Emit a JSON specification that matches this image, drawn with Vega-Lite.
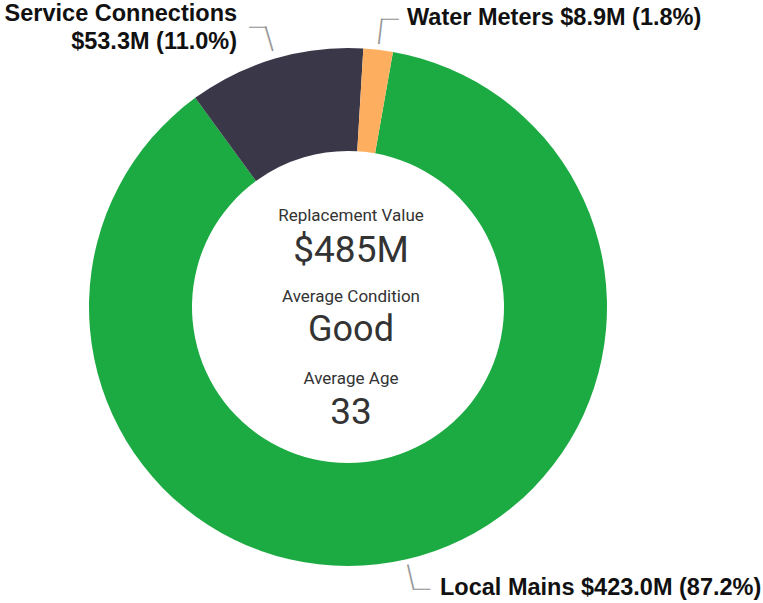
{
  "$schema": "https://vega.github.io/schema/vega-lite/v6.json",
  "autosize": {"type": "none"},
  "width": 696,
  "height": 592,
  "padding": {"left": 0, "top": 11, "right": 67, "bottom": 0},
  "background": "white",
  "config": {"view": {"stroke": null}},
  "datasets": {
    "assets": [
      {"asset": "Local Mains", "value": 423.0, "label": "Local Mains $423.0M (87.2%)"},
      {"asset": "Service Connections", "value": 53.3, "label": "Service Connections\n$53.3M (11.0%)"},
      {"asset": "Water Meters", "value": 8.9, "label": "Water Meters $8.9M (1.8%)"}
    ],
    "summary": [
      {"metric": "Replacement Value", "display": "$485M"},
      {"metric": "Average Condition", "display": "Good"},
      {"metric": "Average Age", "display": "33"}
    ]
  },
  "data": {"name": "assets"},
  "layer": [
    {
      "mark": {"type": "arc", "innerRadius": 156, "outerRadius": 259},
      "encoding": {
        "theta": {"field": "value", "type": "quantitative", "stack": true, "scale": {"range": [0.1745, 6.4577]}},
        "color": {"field": "asset", "type": "nominal", "scale": {"domain": ["Local Mains", "Service Connections", "Water Meters"], "range": ["#1caa42", "#3a3748", "#fdae5f"]}, "legend": null}
      }
    },
    {
      "mark": {"type": "text", "radius": 277, "angle": 166.9, "align": "center", "baseline": "alphabetic", "dy": 7.4, "font": "DejaVu Sans Mono", "fontSize": 21.5, "fill": "#999999"},
      "encoding": {
        "theta": {"field": "value", "type": "quantitative", "stack": true},
        "detail": {"field": "asset"},
        "text": {"condition": {"test": "datum.asset === 'Local Mains'", "value": "│"}, "value": ""}
      }
    },
    {
      "mark": {"type": "text", "radius": 279.5, "angle": -16.4, "align": "center", "baseline": "alphabetic", "dy": 7.4, "font": "DejaVu Sans Mono", "fontSize": 21.5, "fill": "#999999"},
      "encoding": {
        "theta": {"field": "value", "type": "quantitative", "stack": true},
        "detail": {"field": "asset"},
        "text": {"condition": {"test": "datum.asset === 'Service Connections'", "value": "│"}, "value": ""}
      }
    },
    {
      "mark": {"type": "text", "radius": 277.5, "angle": 6.7, "align": "center", "baseline": "alphabetic", "dy": 7.4, "font": "DejaVu Sans Mono", "fontSize": 21.5, "fill": "#999999"},
      "encoding": {
        "theta": {"field": "value", "type": "quantitative", "stack": true},
        "detail": {"field": "asset"},
        "text": {"condition": {"test": "datum.asset === 'Water Meters'", "value": "│"}, "value": ""}
      }
    },
    {
      "mark": {"type": "text", "radius": 289, "align": "left", "baseline": "alphabetic", "dx": -0.5, "dy": 5, "font": "DejaVu Sans Mono", "fontSize": 14.5, "fill": "#8f8f8f"},
      "encoding": {
        "theta": {"field": "value", "type": "quantitative", "stack": true},
        "detail": {"field": "asset"},
        "text": {"condition": {"test": "datum.asset === 'Local Mains'", "value": "──"}, "value": ""}
      }
    },
    {
      "mark": {"type": "text", "radius": 292, "align": "right", "baseline": "alphabetic", "dx": 0.7, "dy": 5, "font": "DejaVu Sans Mono", "fontSize": 14.5, "fill": "#8f8f8f"},
      "encoding": {
        "theta": {"field": "value", "type": "quantitative", "stack": true},
        "detail": {"field": "asset"},
        "text": {"condition": {"test": "datum.asset === 'Service Connections'", "value": "──"}, "value": ""}
      }
    },
    {
      "mark": {"type": "text", "radius": 290, "align": "left", "baseline": "alphabetic", "dx": -0.5, "dy": 5, "font": "DejaVu Sans Mono", "fontSize": 14.5, "fill": "#8f8f8f"},
      "encoding": {
        "theta": {"field": "value", "type": "quantitative", "stack": true},
        "detail": {"field": "asset"},
        "text": {"condition": {"test": "datum.asset === 'Water Meters'", "value": "──"}, "value": ""}
      }
    },
    {
      "mark": {"type": "text", "radius": 289, "align": "left", "baseline": "alphabetic", "dx": 26.6, "dy": 6.5, "font": "Liberation Sans", "fontWeight": "bold", "fontSize": 23.5, "fill": "#111111"},
      "encoding": {
        "theta": {"field": "value", "type": "quantitative", "stack": true},
        "detail": {"field": "asset"},
        "text": {"condition": {"test": "datum.asset === 'Local Mains'", "field": "label", "type": "nominal"}, "value": ""}
      }
    },
    {
      "mark": {"type": "text", "radius": 292, "align": "right", "baseline": "alphabetic", "dx": -28.6, "dy": -5.4, "lineBreak": "\n", "lineHeight": 28, "font": "Liberation Sans", "fontWeight": "bold", "fontSize": 23.5, "fill": "#111111"},
      "encoding": {
        "theta": {"field": "value", "type": "quantitative", "stack": true},
        "detail": {"field": "asset"},
        "text": {"condition": {"test": "datum.asset === 'Service Connections'", "field": "label", "type": "nominal"}, "value": ""}
      }
    },
    {
      "mark": {"type": "text", "radius": 290, "align": "left", "baseline": "alphabetic", "dx": 25.2, "dy": 6, "font": "Liberation Sans", "fontWeight": "bold", "fontSize": 23.5, "fill": "#111111"},
      "encoding": {
        "theta": {"field": "value", "type": "quantitative", "stack": true},
        "detail": {"field": "asset"},
        "text": {"condition": {"test": "datum.asset === 'Water Meters'", "field": "label", "type": "nominal"}, "value": ""}
      }
    },
    {
      "data": {"name": "summary"},
      "transform": [{"filter": "datum.metric === 'Replacement Value'"}],
      "mark": {"type": "text", "align": "center", "baseline": "alphabetic", "dx": 3, "dy": -86.5, "font": "Roboto", "fontSize": 17, "fill": "#333333"},
      "encoding": {"text": {"field": "metric", "type": "nominal"}}
    },
    {
      "data": {"name": "summary"},
      "transform": [{"filter": "datum.metric === 'Replacement Value'"}],
      "mark": {"type": "text", "align": "center", "baseline": "alphabetic", "dx": 3, "dy": -45.5, "font": "Roboto", "fontSize": 37, "fill": "#333333"},
      "encoding": {"text": {"field": "display", "type": "nominal"}}
    },
    {
      "data": {"name": "summary"},
      "transform": [{"filter": "datum.metric === 'Average Condition'"}],
      "mark": {"type": "text", "align": "center", "baseline": "alphabetic", "dx": 3, "dy": -5, "font": "Roboto", "fontSize": 17, "fill": "#333333"},
      "encoding": {"text": {"field": "metric", "type": "nominal"}}
    },
    {
      "data": {"name": "summary"},
      "transform": [{"filter": "datum.metric === 'Average Condition'"}],
      "mark": {"type": "text", "align": "center", "baseline": "alphabetic", "dx": 3, "dy": 34, "font": "Roboto", "fontSize": 36, "fill": "#333333"},
      "encoding": {"text": {"field": "display", "type": "nominal"}}
    },
    {
      "data": {"name": "summary"},
      "transform": [{"filter": "datum.metric === 'Average Age'"}],
      "mark": {"type": "text", "align": "center", "baseline": "alphabetic", "dx": 3, "dy": 77, "font": "Roboto", "fontSize": 17, "fill": "#333333"},
      "encoding": {"text": {"field": "metric", "type": "nominal"}}
    },
    {
      "data": {"name": "summary"},
      "transform": [{"filter": "datum.metric === 'Average Age'"}],
      "mark": {"type": "text", "align": "center", "baseline": "alphabetic", "dx": 3, "dy": 117, "font": "Roboto", "fontSize": 37, "fill": "#333333"},
      "encoding": {"text": {"field": "display", "type": "nominal"}}
    }
  ]
}
